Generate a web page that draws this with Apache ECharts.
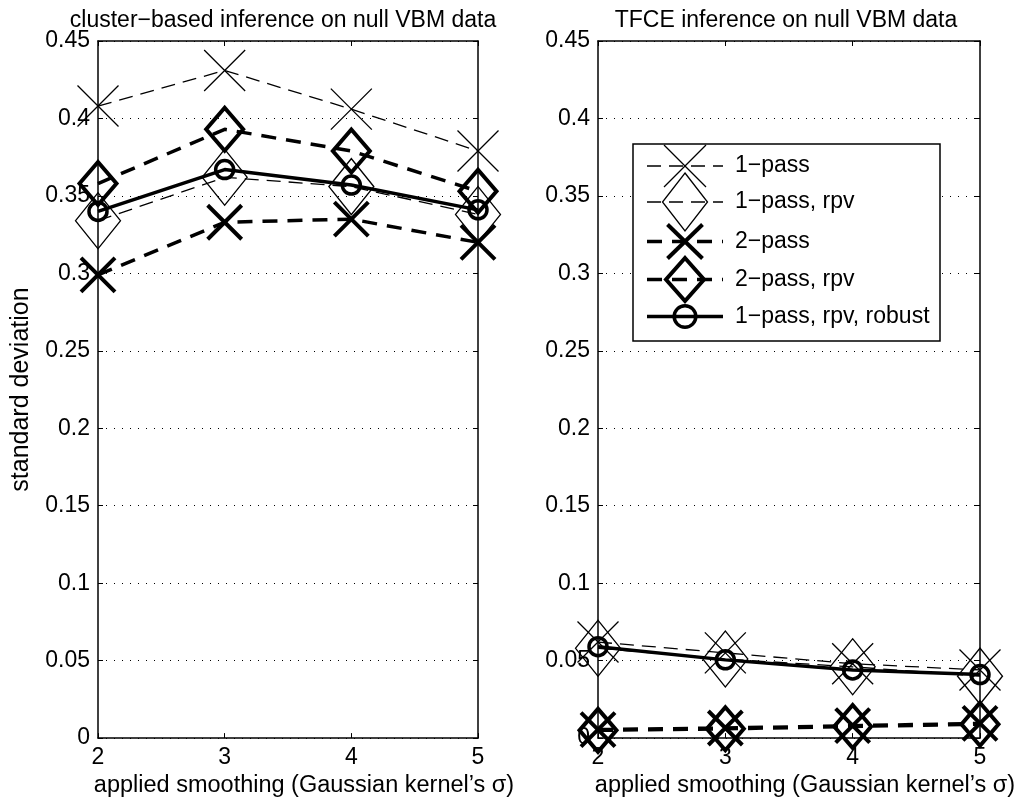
<!DOCTYPE html>
<html>
<head>
<meta charset="utf-8">
<script src="https://cdn.jsdelivr.net/npm/echarts@6/dist/echarts.min.js"></script>
<style>
html,body{margin:0;padding:0;background:#fff;}
#chart{width:1025px;height:803px;}
</style>
</head>
<body>
<div id="chart"></div>
<script>
// ---- data ----
const smoothing = [2, 3, 4, 5];
const seriesNames = ['1\u2212pass', '1\u2212pass, rpv', '2\u2212pass', '2\u2212pass, rpv', '1\u2212pass, rpv, robust'];
const titles = ['cluster\u2212based inference on null VBM data', 'TFCE inference on null VBM data'];
const xAxisName = 'applied smoothing (Gaussian kernel\u2019s \u03c3)';
const yAxisName = 'standard deviation';

const clusterOnePass     = [0.408, 0.431, 0.406, 0.379];
const clusterOnePassRpv  = [0.334, 0.362, 0.356, 0.338];
const clusterTwoPass     = [0.299, 0.333, 0.335, 0.320];
const clusterTwoPassRpv  = [0.358, 0.393, 0.379, 0.353];
const clusterRobust      = [0.340, 0.367, 0.357, 0.341];

const tfceOnePass        = [0.062, 0.055, 0.048, 0.044];
const tfceOnePassRpv     = [0.058, 0.051, 0.046, 0.040];
const tfceTwoPass        = [0.0055, 0.0065, 0.0080, 0.0095];
const tfceTwoPassRpv     = [0.0050, 0.0060, 0.0075, 0.0090];
const tfceRobust         = [0.059, 0.0505, 0.044, 0.041];

// ---- styles ----
const FONT = 'Liberation Sans';
const FS = 23;
const X_PATH = 'path://M0,0L10,10M10,0L0,10';
const D_PATH = 'path://M5,0L10,5L5,10L0,5Z';
const styles = [
  {symbol: X_PATH, size: [41, 41], lw: 1.3, bw: 1.3, dash: [14, 8]},
  {symbol: D_PATH, size: [45, 56], lw: 1.3, bw: 1.3, dash: [14, 8]},
  {symbol: X_PATH, size: [34, 34], lw: 3.5, bw: 4, dash: [15, 10]},
  {symbol: D_PATH, size: [37, 43], lw: 3.5, bw: 4, dash: [15, 10]},
  {symbol: 'circle', size: [18, 18], lw: 3.5, bw: 3.5, dash: 'solid'}
];

function pairs(vals) { return smoothing.map((x, i) => [x, vals[i]]); }

function makeSeries(vals, k, grid) {
  const s = styles[k];
  return {
    type: 'line', name: seriesNames[k],
    xAxisIndex: grid * 2, yAxisIndex: grid * 2,
    data: pairs(vals), clip: false,
    symbol: s.symbol, symbolSize: s.size, showAllSymbol: true,
    lineStyle: {color: '#000', width: s.lw, type: s.dash},
    itemStyle: {color: 'none', borderColor: '#000', borderWidth: s.bw},
    emphasis: {disabled: true}, animation: false, z: 3 + k
  };
}

const grids = [
  {left: 98, top: 41, width: 380, height: 699},
  {left: 598, top: 41, width: 382, height: 699}
];

const xAxes = [], yAxes = [];
[0, 1].forEach(g => {
  xAxes.push({
    type: 'value', gridIndex: g, min: 2, max: 5, interval: 1, position: 'bottom',
    axisLine: {show: true, onZero: false, lineStyle: {color: '#000', width: 1.5}},
    axisTick: {show: true, inside: true, length: 5, lineStyle: {color: '#000', width: 1}},
    axisLabel: {show: true, color: '#000', fontFamily: FONT, fontSize: FS, margin: 8},
    splitLine: {show: false},
    name: xAxisName, nameLocation: 'middle', nameGap: 35,
    nameTextStyle: {color: '#000', fontFamily: FONT, fontSize: 23.5, padding: [0, 0, 0, 32]}
  });
  xAxes.push({
    type: 'value', gridIndex: g, min: 2, max: 5, interval: 1, position: 'top',
    axisLine: {show: true, onZero: false, lineStyle: {color: '#000', width: 1.5}},
    axisTick: {show: true, inside: true, length: 5, lineStyle: {color: '#000', width: 1}},
    axisLabel: {show: false}, splitLine: {show: false}
  });
  yAxes.push({
    type: 'value', gridIndex: g, min: 0, max: 0.45, interval: 0.05, position: 'left',
    axisLine: {show: true, onZero: false, lineStyle: {color: '#000', width: 1.5}},
    axisTick: {show: true, inside: true, length: 5, lineStyle: {color: '#000', width: 1}},
    axisLabel: {show: true, color: '#000', fontFamily: FONT, fontSize: FS, margin: 8,
      formatter: v => String(+v.toFixed(2))},
    splitLine: {show: true, lineStyle: {color: '#000', width: 1, type: [1, 7]}},
    name: g === 0 ? yAxisName : '', nameLocation: 'middle', nameGap: 64,
    nameTextStyle: {color: '#000', fontFamily: FONT, fontSize: 25}
  });
  yAxes.push({
    type: 'value', gridIndex: g, min: 0, max: 0.45, interval: 0.05, position: 'right',
    axisLine: {show: true, onZero: false, lineStyle: {color: '#000', width: 1.5}},
    axisTick: {show: true, inside: true, length: 5, lineStyle: {color: '#000', width: 1}},
    axisLabel: {show: false}, splitLine: {show: false}
  });
});

const leftData = [clusterOnePass, clusterOnePassRpv, clusterTwoPass, clusterTwoPassRpv, clusterRobust];
const rightData = [tfceOnePass, tfceOnePassRpv, tfceTwoPass, tfceTwoPassRpv, tfceRobust];
const series = [];
leftData.forEach((v, k) => series.push(makeSeries(v, k, 0)));
rightData.forEach((v, k) => series.push(makeSeries(v, k, 1)));

// ---- legend (drawn as graphic, layout only) ----
const legendBox = {x: 633, y: 144, w: 307, h: 197};
const legendRows = [166, 202, 241.5, 279.5, 316.5];
const legendLine = {x1: 647, x2: 723, cx: 685, tx: 735};
const legendSym = [
  {kind: 'x', w: 42, h: 42},
  {kind: 'd', w: 45, h: 58},
  {kind: 'x', w: 35, h: 34},
  {kind: 'd', w: 38, h: 43},
  {kind: 'circle', r: 10.8}
];
const graphic = [{
  type: 'rect', z: 100,
  shape: {x: legendBox.x, y: legendBox.y, width: legendBox.w, height: legendBox.h},
  style: {fill: '#fff', stroke: '#000', lineWidth: 1.5}
}];
seriesNames.forEach((name, k) => {
  const s = styles[k], y = legendRows[k], L = legendLine, sym = legendSym[k];
  const stroke = {fill: 'none', stroke: '#000', lineWidth: s.bw};
  graphic.push({
    type: 'line', z: 101,
    shape: {x1: L.x1, y1: y, x2: L.x2, y2: y},
    style: {stroke: '#000', lineWidth: s.lw, lineDash: s.dash === 'solid' ? null : s.dash}
  });
  if (sym.kind === 'x') {
    const hw = sym.w / 2, hh = sym.h / 2;
    graphic.push({type: 'line', z: 102, shape: {x1: L.cx - hw, y1: y - hh, x2: L.cx + hw, y2: y + hh}, style: stroke});
    graphic.push({type: 'line', z: 102, shape: {x1: L.cx + hw, y1: y - hh, x2: L.cx - hw, y2: y + hh}, style: stroke});
  } else if (sym.kind === 'd') {
    const hw = sym.w / 2, hh = sym.h / 2;
    graphic.push({type: 'polygon', z: 102,
      shape: {points: [[L.cx, y - hh], [L.cx + hw, y], [L.cx, y + hh], [L.cx - hw, y]]}, style: stroke});
  } else {
    graphic.push({type: 'circle', z: 102, shape: {cx: L.cx, cy: y, r: sym.r}, style: stroke});
  }
  graphic.push({
    type: 'text', z: 102,
    style: {text: name, x: L.tx, y: y, fill: '#000', font: FS + 'px "' + FONT + '"', align: 'left', verticalAlign: 'middle'}
  });
});

const option = {
  backgroundColor: '#fff',
  animation: false,
  title: [
    {text: titles[0], left: 283, top: 9, textAlign: 'center', padding: 0,
      textStyle: {color: '#000', fontFamily: FONT, fontSize: FS, fontWeight: 'normal'}},
    {text: titles[1], left: 786, top: 9, textAlign: 'center', padding: 0,
      textStyle: {color: '#000', fontFamily: FONT, fontSize: FS, fontWeight: 'normal'}}
  ],
  grid: grids,
  xAxis: xAxes,
  yAxis: yAxes,
  series: series,
  graphic: graphic
};

const chart = echarts.init(document.getElementById('chart'), null, {renderer: 'canvas'});
chart.setOption(option);
</script>
</body>
</html>
